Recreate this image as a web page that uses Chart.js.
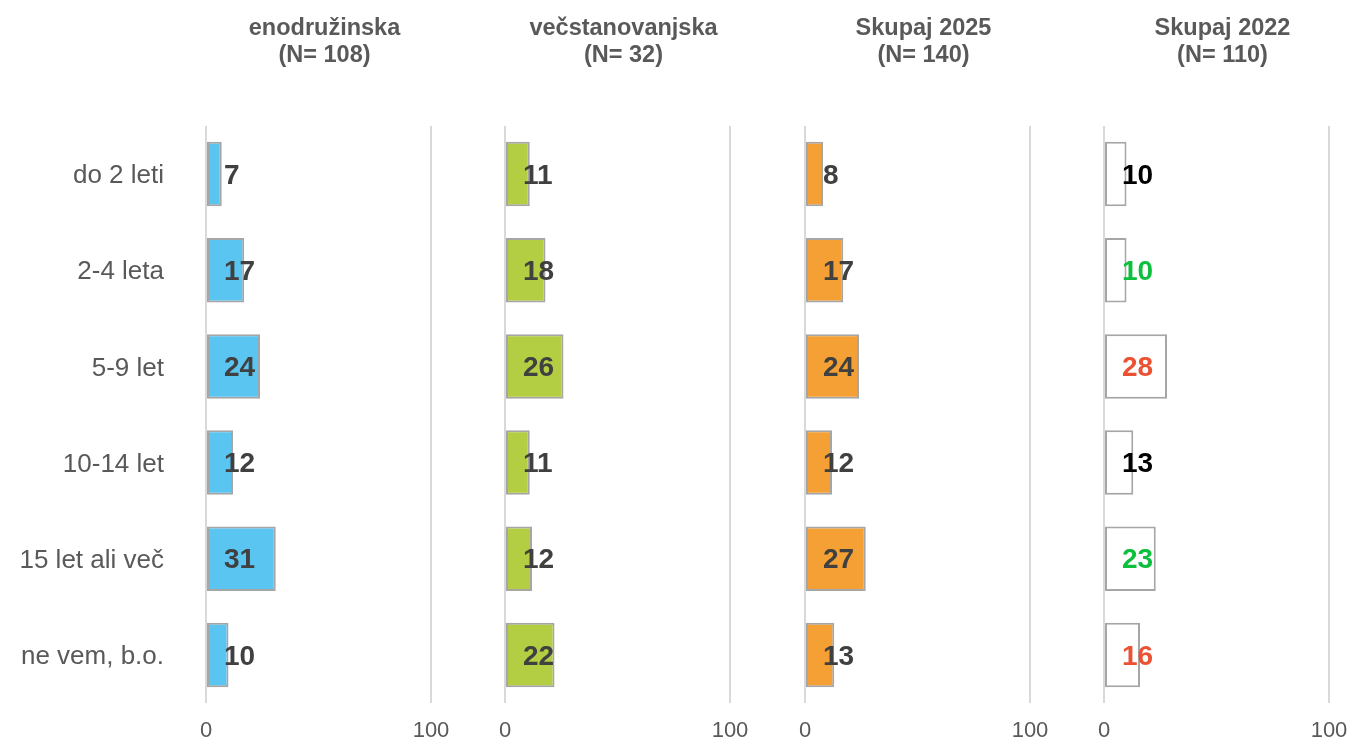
<!DOCTYPE html>
<html>
<head>
<meta charset="utf-8">
<script src="https://cdn.jsdelivr.net/npm/chart.js@4/dist/chart.umd.min.js"></script>
<style>
  html, body { margin: 0; padding: 0; background: #ffffff; }
  #wrap { position: relative; width: 1352px; height: 740px; }
  #wrap canvas { position: absolute; left: 0; top: 0; }
</style>
</head>
<body>
<div id="wrap">
  <canvas id="c0" width="1352" height="740"></canvas>
  <canvas id="c1" width="1352" height="740"></canvas>
  <canvas id="c2" width="1352" height="740"></canvas>
  <canvas id="c3" width="1352" height="740"></canvas>
</div>
<script>
// Categories (age of the building)
const categories = ['do 2 leti', '2-4 leta', '5-9 let', '10-14 let', '15 let ali več', 'ne vem, b.o.'];

// Shares in % per group
const enodruzinska = [7, 17, 24, 12, 31, 10];
const vecstanovanjska = [11, 18, 26, 11, 12, 22];
const skupaj2025 = [8, 17, 24, 12, 27, 13];
const skupaj2022 = [10, 10, 28, 13, 23, 16];

// Panel headings
const titleLines = [
  ['enodružinska', '(N= 108)'],
  ['večstanovanjska', '(N= 32)'],
  ['Skupaj 2025', '(N= 140)'],
  ['Skupaj 2022', '(N= 110)']
];

// Axis ticks
const tickValues = [0, 100];

// ---- styling ----
const FONT = '"Liberation Sans", Arial, sans-serif';
const GRAY_TEXT = '#595959';
const W = 1352, H = 740;
const PANEL_LEFT = [206, 505, 805, 1104];
const PANEL_WIDTH = 225;
const panels = [
  { values: enodruzinska, fill: '#5BC5F1', labelColors: null },
  { values: vecstanovanjska, fill: '#B3CE42', labelColors: null },
  { values: skupaj2025, fill: '#F4A034', labelColors: null },
  { values: skupaj2022, fill: '#FFFFFF',
    labelColors: ['#000000', '#0CBF3C', '#EB5234', '#000000', '#0CBF3C', '#EB5234'] }
];

// Value labels drawn just inside the bar base
const valueLabels = {
  id: 'valueLabels',
  afterDatasetsDraw(chart, args, opts) {
    const ctx = chart.ctx;
    const meta = chart.getDatasetMeta(0);
    const ds = chart.data.datasets[0];
    const x0 = chart.scales.x.getPixelForValue(0);
    ctx.save();
    ctx.font = 'bold 28px ' + FONT;
    ctx.textAlign = 'left';
    ctx.textBaseline = 'middle';
    meta.data.forEach((bar, i) => {
      ctx.fillStyle = opts.colors ? opts.colors[i] : '#404040';
      ctx.fillText(String(ds.data[i]), x0 + 18, bar.y + 2);
    });
    ctx.restore();
  }
};

// Two-line heading over each panel
const panelTitle = {
  id: 'panelTitle',
  afterDraw(chart, args, opts) {
    const ctx = chart.ctx;
    const area = chart.chartArea;
    const cx = (area.left + area.right) / 2 + 6;
    ctx.save();
    ctx.font = 'bold 23.5px ' + FONT;
    ctx.fillStyle = GRAY_TEXT;
    ctx.textAlign = 'center';
    ctx.textBaseline = 'middle';
    opts.lines.forEach((t, j) => ctx.fillText(t, cx, 29 + j * 27));
    ctx.restore();
  }
};

panels.forEach((p, k) => {
  const left = PANEL_LEFT[k];
  const yScale = {
    display: k === 0,
    grid: { display: false, drawTicks: false },
    border: { display: false },
    ticks: { color: GRAY_TEXT, font: { family: FONT, size: 26 }, padding: 42, labelOffset: 2 }
  };
  if (k === 0) {
    yScale.afterFit = (scale) => {
      scale.width = left;
      scale.paddingTop = 0;
      scale.paddingBottom = 0;
    };
  }
  new Chart(document.getElementById('c' + k), {
    type: 'bar',
    data: {
      labels: categories,
      datasets: [{
        data: p.values,
        backgroundColor: p.fill,
        borderColor: '#A6A6A6',
        borderWidth: 2,
        borderSkipped: false,
        categoryPercentage: 1,
        barPercentage: 0.67
      }]
    },
    plugins: [valueLabels, panelTitle],
    options: {
      indexAxis: 'y',
      responsive: false,
      animation: false,
      events: [],
      layout: {
        padding: { left: k === 0 ? 0 : left, right: W - (left + PANEL_WIDTH), top: 126, bottom: 0 }
      },
      scales: {
        x: {
          min: 0,
          max: 100,
          afterBuildTicks(scale) { scale.ticks = tickValues.map(v => ({ value: v })); },
          grid: { color: '#D9D9D9', lineWidth: 2, drawTicks: false },
          border: { display: false },
          ticks: { color: GRAY_TEXT, font: { family: FONT, size: 22 }, padding: 15, maxRotation: 0 },
          afterFit(scale) {
            scale.height = 37;
            scale.paddingLeft = 0;
            scale.paddingRight = 0;
          }
        },
        y: yScale
      },
      plugins: {
        legend: { display: false },
        tooltip: { enabled: false },
        title: { display: false },
        valueLabels: { colors: p.labelColors },
        panelTitle: { lines: titleLines[k] }
      }
    }
  });
});
</script>
</body>
</html>
